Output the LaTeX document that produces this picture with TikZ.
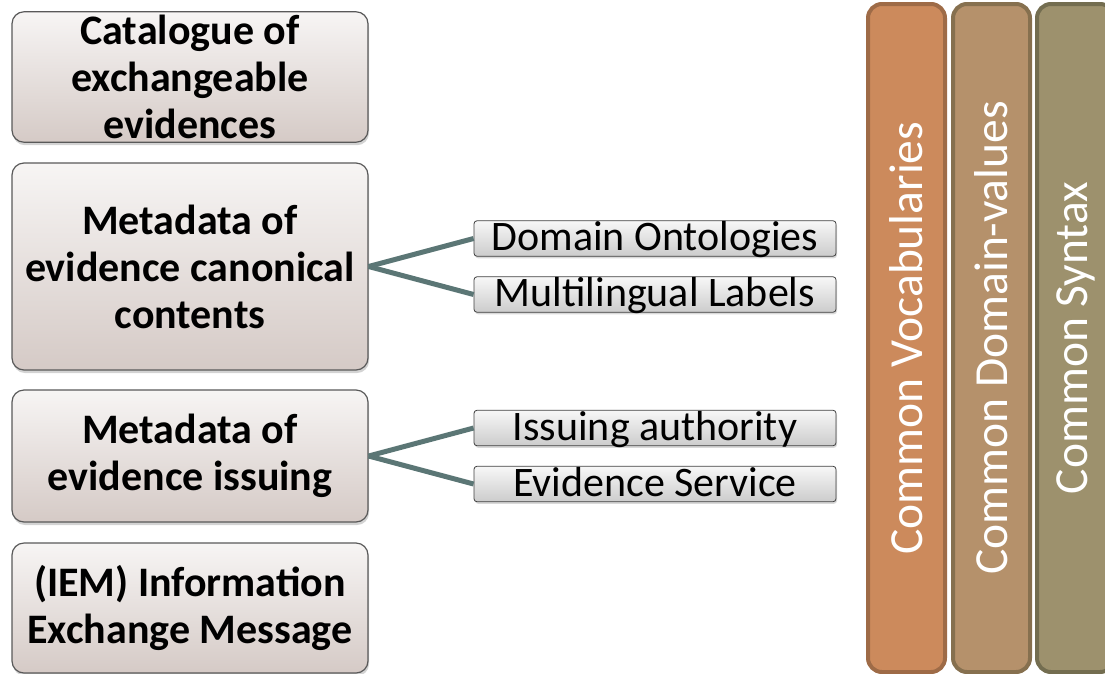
\documentclass[tikz,border=0pt]{standalone}
\usepackage{fontspec}
\setmainfont{Carlito}
\usetikzlibrary{shadows}

\definecolor{linkgray}{HTML}{5B7675}
\definecolor{blocktop}{HTML}{F7F5F4}
\definecolor{blockbottom}{HTML}{D5CAC6}
\definecolor{vocfill}{HTML}{CC8A5C}
\definecolor{vocdraw}{HTML}{9E6B47}
\definecolor{domfill}{HTML}{B5916B}
\definecolor{domdraw}{HTML}{86704F}
\definecolor{synfill}{HTML}{9D916D}
\definecolor{syndraw}{HTML}{736D50}

\begin{document}
\begin{tikzpicture}[x=1pt,y=-1pt,
    block/.style={shape=rectangle, rounded corners=12pt, draw=black!65, line width=1.2pt,
        top color=blocktop, bottom color=blockbottom, minimum width=356pt,
        align=center, font=\bfseries\fontsize{42}{47}\selectfont,
        drop shadow={shadow xshift=1pt, shadow yshift=-3pt, opacity=0.35}},
    item/.style={shape=rectangle, rounded corners=3pt, draw=black!75, line width=0.8pt,
        top color=black!3, bottom color=black!20, minimum width=362pt, inner sep=0pt,
        text height=30pt, text depth=5.5pt, font=\fontsize{42}{44}\selectfont,
        drop shadow={shadow xshift=1pt, shadow yshift=-2pt, opacity=0.3}},
    bar/.style={shape=rectangle, rounded corners=14pt, line width=4pt, rotate=90,
        minimum width=668pt, minimum height=77pt, text=white, font=\fontsize{47.5}{50}\selectfont},
    link/.style={draw=linkgray, line width=5pt}]
    \useasboundingbox (0,0) rectangle (1105,673);

    \node[block, minimum height=130pt] (A) at (190,77) {Catalogue of\\exchangeable\\evidences};
    \node[block, minimum height=207pt] (B) at (190,266.5) {Metadata of\\evidence canonical\\contents};
    \node[block, minimum height=132pt] (C) at (190,456) {Metadata of\\evidence issuing};
    \node[block, minimum height=130pt] (D) at (190,608) {(IEM) Information\\Exchange Message};

    \node[item] (B1) at (655,238.5) {Domain Ontologies};
    \node[item] (B2) at (655,294.5) {Multilingual Labels};
    \node[item] (C1) at (655,428) {Issuing authority};
    \node[item] (C2) at (655,484) {Evidence Service};

    \path [link] (B.east) -- (B1.west);
    \path [link] (B.east) -- (B2.west);
    \path [link] (C.east) -- (C1.west);
    \path [link] (C.east) -- (C2.west);

    \node[bar, draw=vocdraw, fill=vocfill] (V) at (906.5,338) {Common Vocabularies};
    \node[bar, draw=domdraw, fill=domfill] (W) at (991.5,338) {Common Domain-values};
    \node[bar, draw=syndraw, fill=synfill] (S) at (1075.5,338) {Common Syntax};

\end{tikzpicture}
\end{document}
